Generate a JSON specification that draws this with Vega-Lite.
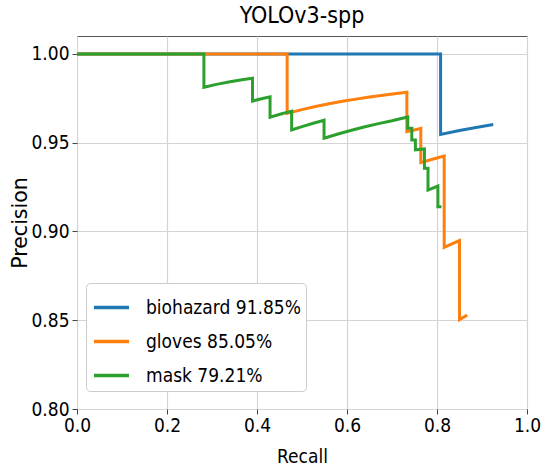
{
  "$schema": "https://vega.github.io/schema/vega-lite/v6.json",
  "width": 450,
  "height": 373,
  "autosize": {"type": "none"},
  "padding": {"left": 77, "top": 36, "right": 16, "bottom": 63},
  "background": "white",
  "title": {
    "text": "YOLOv3-spp",
    "font": "DejaVu Sans Condensed, DejaVu Sans",
    "fontSize": 23,
    "fontWeight": "normal",
    "color": "#000000",
    "anchor": "middle",
    "baseline": "alphabetic",
    "offset": 11,
    "dy": 21
  },
  "config": {
    "view": {"stroke": "#555555", "strokeWidth": 1},
    "axis": {
      "labelFont": "DejaVu Sans Condensed, DejaVu Sans",
      "titleFont": "DejaVu Sans Condensed, DejaVu Sans",
      "labelFontSize": 19,
      "titleFontSize": 19,
      "titleFontWeight": "normal",
      "labelColor": "#000000",
      "titleColor": "#000000",
      "grid": true,
      "gridColor": "#d4d4d4",
      "gridWidth": 1.2,
      "domain": false,
      "tickColor": "#444444",
      "tickSize": 5,
      "tickWidth": 1
    },
    "legend": {
      "labelFont": "DejaVu Sans Condensed, DejaVu Sans",
      "labelFontSize": 19,
      "labelColor": "#000000",
      "labelLimit": 400
    }
  },
  "data": {
    "values": [
      {"series": "biohazard 91.85%", "i": 0, "recall": 0.0, "precision": 1.0},
      {"series": "biohazard 91.85%", "i": 1, "recall": 0.808, "precision": 1.0},
      {"series": "biohazard 91.85%", "i": 2, "recall": 0.808, "precision": 0.9547},
      {"series": "biohazard 91.85%", "i": 3, "recall": 0.85, "precision": 0.95684},
      {"series": "biohazard 91.85%", "i": 4, "recall": 0.89, "precision": 0.95872},
      {"series": "biohazard 91.85%", "i": 5, "recall": 0.925, "precision": 0.9602},

      {"series": "gloves 85.05%", "i": 0, "recall": 0.0, "precision": 1.0},
      {"series": "gloves 85.05%", "i": 1, "recall": 0.467, "precision": 1.0},
      {"series": "gloves 85.05%", "i": 2, "recall": 0.467, "precision": 0.9665},
      {"series": "gloves 85.05%", "i": 3, "recall": 0.5, "precision": 0.96864},
      {"series": "gloves 85.05%", "i": 4, "recall": 0.53, "precision": 0.97036},
      {"series": "gloves 85.05%", "i": 5, "recall": 0.56, "precision": 0.9719},
      {"series": "gloves 85.05%", "i": 6, "recall": 0.59, "precision": 0.97329},
      {"series": "gloves 85.05%", "i": 7, "recall": 0.62, "precision": 0.97455},
      {"series": "gloves 85.05%", "i": 8, "recall": 0.65, "precision": 0.9757},
      {"series": "gloves 85.05%", "i": 9, "recall": 0.68, "precision": 0.97674},
      {"series": "gloves 85.05%", "i": 10, "recall": 0.71, "precision": 0.97771},
      {"series": "gloves 85.05%", "i": 11, "recall": 0.733, "precision": 0.97839},
      {"series": "gloves 85.05%", "i": 12, "recall": 0.733, "precision": 0.9562},
      {"series": "gloves 85.05%", "i": 13, "recall": 0.764, "precision": 0.958},
      {"series": "gloves 85.05%", "i": 14, "recall": 0.764, "precision": 0.9388},
      {"series": "gloves 85.05%", "i": 15, "recall": 0.79, "precision": 0.9407},
      {"series": "gloves 85.05%", "i": 16, "recall": 0.816, "precision": 0.9425},
      {"series": "gloves 85.05%", "i": 17, "recall": 0.816, "precision": 0.891},
      {"series": "gloves 85.05%", "i": 18, "recall": 0.833, "precision": 0.893},
      {"series": "gloves 85.05%", "i": 19, "recall": 0.85, "precision": 0.8949},
      {"series": "gloves 85.05%", "i": 20, "recall": 0.85, "precision": 0.8504},
      {"series": "gloves 85.05%", "i": 21, "recall": 0.867, "precision": 0.8529},

      {"series": "mask 79.21%", "i": 0, "recall": 0.0, "precision": 1.0},
      {"series": "mask 79.21%", "i": 1, "recall": 0.282, "precision": 1.0},
      {"series": "mask 79.21%", "i": 2, "recall": 0.282, "precision": 0.9812},
      {"series": "mask 79.21%", "i": 3, "recall": 0.31, "precision": 0.98287},
      {"series": "mask 79.21%", "i": 4, "recall": 0.34, "precision": 0.98436},
      {"series": "mask 79.21%", "i": 5, "recall": 0.37, "precision": 0.98561},
      {"series": "mask 79.21%", "i": 6, "recall": 0.39, "precision": 0.98634},
      {"series": "mask 79.21%", "i": 7, "recall": 0.39, "precision": 0.9735},
      {"series": "mask 79.21%", "i": 8, "recall": 0.41, "precision": 0.97476},
      {"series": "mask 79.21%", "i": 9, "recall": 0.429, "precision": 0.97585},
      {"series": "mask 79.21%", "i": 10, "recall": 0.429, "precision": 0.9643},
      {"series": "mask 79.21%", "i": 11, "recall": 0.453, "precision": 0.96613},
      {"series": "mask 79.21%", "i": 12, "recall": 0.477, "precision": 0.96778},
      {"series": "mask 79.21%", "i": 13, "recall": 0.477, "precision": 0.9572},
      {"series": "mask 79.21%", "i": 14, "recall": 0.5, "precision": 0.95909},
      {"series": "mask 79.21%", "i": 15, "recall": 0.525, "precision": 0.96096},
      {"series": "mask 79.21%", "i": 16, "recall": 0.549, "precision": 0.9626},
      {"series": "mask 79.21%", "i": 17, "recall": 0.549, "precision": 0.9525},
      {"series": "mask 79.21%", "i": 18, "recall": 0.58, "precision": 0.95492},
      {"series": "mask 79.21%", "i": 19, "recall": 0.61, "precision": 0.95705},
      {"series": "mask 79.21%", "i": 20, "recall": 0.64, "precision": 0.95898},
      {"series": "mask 79.21%", "i": 21, "recall": 0.67, "precision": 0.96074},
      {"series": "mask 79.21%", "i": 22, "recall": 0.7, "precision": 0.96236},
      {"series": "mask 79.21%", "i": 23, "recall": 0.735, "precision": 0.9645},
      {"series": "mask 79.21%", "i": 24, "recall": 0.735, "precision": 0.9581},
      {"series": "mask 79.21%", "i": 25, "recall": 0.744, "precision": 0.9581},
      {"series": "mask 79.21%", "i": 26, "recall": 0.744, "precision": 0.9515},
      {"series": "mask 79.21%", "i": 27, "recall": 0.752, "precision": 0.9515},
      {"series": "mask 79.21%", "i": 28, "recall": 0.752, "precision": 0.946},
      {"series": "mask 79.21%", "i": 29, "recall": 0.772, "precision": 0.9465},
      {"series": "mask 79.21%", "i": 30, "recall": 0.772, "precision": 0.9356},
      {"series": "mask 79.21%", "i": 31, "recall": 0.78, "precision": 0.9356},
      {"series": "mask 79.21%", "i": 32, "recall": 0.78, "precision": 0.9233},
      {"series": "mask 79.21%", "i": 33, "recall": 0.802, "precision": 0.9256},
      {"series": "mask 79.21%", "i": 34, "recall": 0.802, "precision": 0.9139},
      {"series": "mask 79.21%", "i": 35, "recall": 0.81, "precision": 0.9139}
    ]
  },
  "mark": {"type": "line", "strokeWidth": 3, "clip": true, "strokeJoin": "miter", "strokeCap": "butt"},
  "encoding": {
    "x": {
      "field": "recall",
      "type": "quantitative",
      "scale": {"domain": [0, 1], "nice": false, "zero": false},
      "axis": {
        "title": "Recall",
        "values": [0, 0.2, 0.4, 0.6, 0.8, 1.0],
        "format": ".1f",
        "labelPadding": 2,
        "titlePadding": 12,
        "labelFlush": false
      }
    },
    "y": {
      "field": "precision",
      "type": "quantitative",
      "scale": {"domain": [0.8, 1.0101], "nice": false, "zero": false},
      "axis": {
        "title": "Precision",
        "titleFont": "DejaVu Sans",
        "titleFontSize": 20.5,
        "values": [0.8, 0.85, 0.9, 0.95, 1.0],
        "format": ".2f",
        "labelPadding": 3,
        "titlePadding": 0,
        "labelFlush": false
      }
    },
    "color": {
      "field": "series",
      "type": "nominal",
      "scale": {
        "domain": ["biohazard 91.85%", "gloves 85.05%", "mask 79.21%"],
        "range": ["#1f77b4", "#ff7f0e", "#2ca02c"]
      },
      "legend": {
        "title": null,
        "orient": "none",
        "legendX": 9,
        "legendY": 247,
        "symbolType": "stroke",
        "symbolStrokeWidth": 3.5,
        "symbolSize": 1225,
        "symbolOffset": 1,
        "labelOffset": 15,
        "rowPadding": 4,
        "padding": 5,
        "strokeColor": "#cccccc",
        "fillColor": "white",
        "cornerRadius": 4
      }
    },
    "order": {"field": "i", "type": "quantitative"}
  }
}
